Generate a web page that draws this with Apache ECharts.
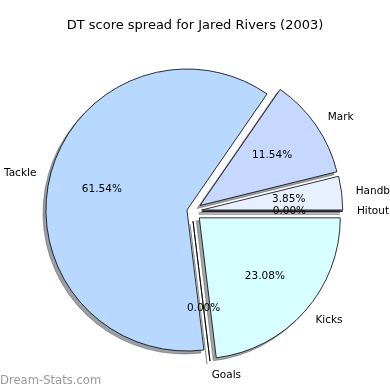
<!DOCTYPE html>
<html><head><meta charset="utf-8">
<script src="https://cdn.jsdelivr.net/npm/echarts@6/dist/echarts.min.js"></script>
<style>html,body{margin:0;padding:0;background:#fff}#c{width:390px;height:390px}</style>
</head><body><div id="c"></div>
<script>
// ---- data ----
const categories = ['Kicks', 'Goals', 'Tackle', 'Mark', 'Handball', 'Hitout'];
const values = [6, 0, 16, 3, 1, 0];
const titleText = 'DT score spread for Jared Rivers (2003)';
const watermark = 'Dream-Stats.com';

// ---- styles ----
const sliceColors = {
  Kicks: '#d8ffff', Goals: '#d8ffff', Tackle: '#b8d8ff',
  Mark: '#c6d8ff', Handball: '#e8f0ff', Hitout: '#eef2ff'
};
const CENTER = [191.8, 211.2];
const SHADOW_SHIFT = [-3, 3];
const R = 141;
const FONT = 'DejaVu Sans';
const smallOffset = 10, bigOffset = 5;
const isBig = n => n === 'Tackle';
const total = values.reduce((a, b) => a + b, 0);

const clear = { color: 'rgba(0,0,0,0)', borderWidth: 0 };
function shadowColor(c) {
  const a = echarts.color.parse(c);
  return 'rgba(' + Math.round(a[0] * 0.3) + ',' + Math.round(a[1] * 0.3) + ',' + Math.round(a[2] * 0.3) + ',0.5)';
}

function build(offset, pick, kind) {
  const isPct = kind === 'pct', isShadow = kind === 'shadow';
  return {
    type: 'pie', silent: true, animation: false,
    center: isShadow ? [CENTER[0] + SHADOW_SHIFT[0], CENTER[1] + SHADOW_SHIFT[1]] : CENTER,
    radius: isPct ? R * 1.2 : R,
    clockwise: true, startAngle: 0,
    selectedMode: 'multiple', selectedOffset: offset,
    avoidLabelOverlap: false,
    labelLayout: { hideOverlap: false },
    label: isPct
      ? { show: true, position: 'inside',
          formatter: p => (p.value / total * 100).toFixed(2) + '%',
          color: '#000', fontFamily: FONT, fontSize: 10.5, overflow: 'none' }
      : { show: kind === 'wedge', position: 'outside', formatter: '{b}', distanceToLabelLine: 0,
          color: '#000', fontFamily: FONT, fontSize: 10.5, overflow: 'none' },
    labelLine: { show: false, length: R * 0.1, length2: 0 },
    emphasis: { disabled: true },
    data: categories.map((name, i) => {
      const on = pick(name);
      const item = { name: name, value: values[i], selected: true };
      if (isPct || !on) {
        item.itemStyle = clear;
      } else if (isShadow) {
        const sc = shadowColor(sliceColors[name]);
        item.itemStyle = { color: sc, borderColor: sc, borderWidth: 0.8 };
      } else {
        item.itemStyle = { color: sliceColors[name], borderColor: '#000', borderWidth: 0.8 };
      }
      if (!on) item.label = { show: false };
      return item;
    })
  };
}

const chart = echarts.init(document.getElementById('c'), null, { renderer: 'canvas' });
chart.setOption({
  backgroundColor: '#fff',
  animation: false,
  title: {
    text: titleText, left: 'center', top: 19, padding: 0,
    textStyle: { fontFamily: FONT, fontSize: 13, fontWeight: 'normal', color: '#000' }
  },
  graphic: [{
    type: 'text', left: 0, top: 375,
    style: { text: watermark, font: '11.6px "DejaVu Sans"', fill: '#9a9a9a' }
  }],
  series: [
    build(smallOffset, n => !isBig(n), 'shadow'),
    build(bigOffset, isBig, 'shadow'),
    build(smallOffset, n => !isBig(n), 'wedge'),
    build(bigOffset, isBig, 'wedge'),
    build(smallOffset, n => !isBig(n), 'pct'),
    build(bigOffset, isBig, 'pct')
  ]
});
</script></body></html>
